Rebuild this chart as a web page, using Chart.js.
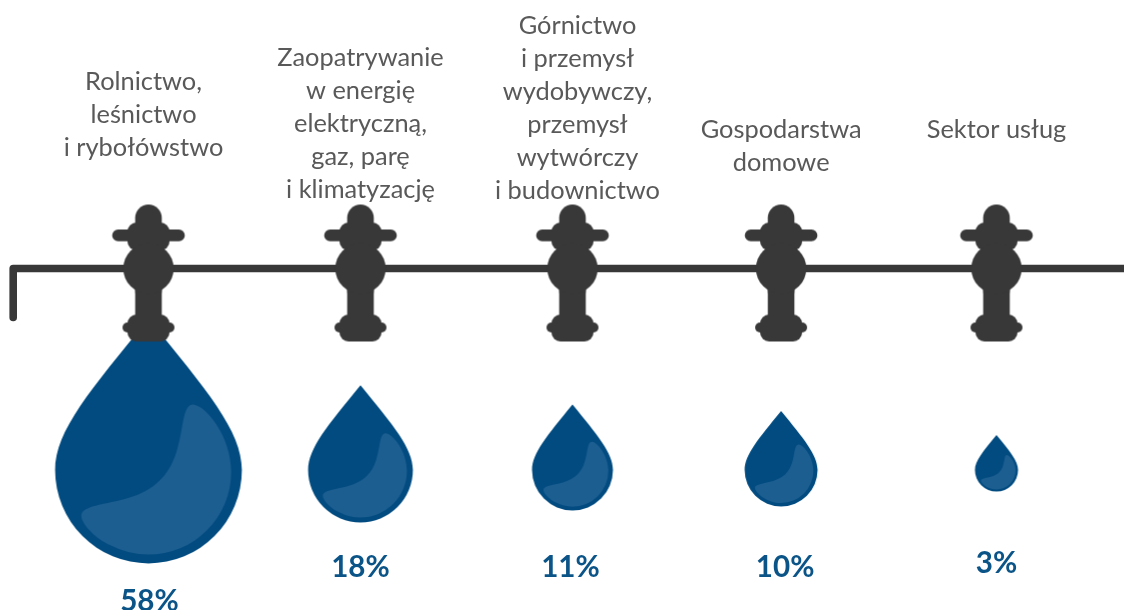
<!DOCTYPE html>
<html lang="pl">
<head>
<meta charset="utf-8">
<title>Zużycie wody według sektorów</title>
<script src="https://cdn.jsdelivr.net/npm/chart.js@4"></script>
<style>html,body{margin:0;padding:0;background:#fff;overflow:hidden}canvas{display:block}</style>
</head>
<body>
<canvas id="c" width="1124" height="610"></canvas>
<script>
// ---- data ----
const categories = [
  ["Rolnictwo,", "leśnictwo", "i rybołówstwo"],
  ["Zaopatrywanie", "w energię", "elektryczną,", "gaz, parę", "i klimatyzację"],
  ["Górnictwo", "i przemysł", "wydobywczy,", "przemysł", "wytwórczy", "i budownictwo"],
  ["Gospodarstwa", "domowe"],
  ["Sektor usług"]
];
const shares = [58, 18, 11, 10, 3];

// ---- layout (not data) ----
const COL_NUDGE = [0, 0, 0, -0.016, 0];
const SIZE_ADJ = [1.005, 1.012, 1, 0.945, 1.02];
const LABEL_TOP = [82, 58, 26, 130, 130];
const LABEL_DX = [-5, 0, 5, 0, 0];
const PCT_Y = [601, 567, 567, 567, 563];
const PCT_DX = [1, 0, -2, 4, 0];
const R_PER_SQRT = 12.2, DROP_Y = 470, PIPE_Y = 268.5;
const DARK = "#383838", BLUE = "#024b80", LIGHT = "#1c5e90", TEXT = "#595959", PCT = "#0b5488";

function dropCanvas(r) {
  const c = document.createElement("canvas");
  const hw = Math.ceil(r * 1.7) + 2;
  c.width = hw * 2; c.height = hw * 2;
  const g = c.getContext("2d");
  g.translate(hw, hw); g.scale(r, r);
  g.fillStyle = BLUE;
  g.beginPath();
  g.moveTo(0, -1.62);
  g.bezierCurveTo(0.62, -0.86, 1, -0.42, 1, 0);
  g.arc(0, 0, 1, 0, Math.PI);
  g.bezierCurveTo(-1, -0.42, -0.62, -0.86, 0, -1.62);
  g.closePath(); g.fill();
  g.fillStyle = LIGHT;
  g.beginPath();
  g.moveTo(0.49, -0.70);
  g.bezierCurveTo(0.62, -0.68, 0.886, -0.36, 0.886, 0.02);
  g.arc(0, 0.02, 0.886, 0, 2.05);
  g.bezierCurveTo(-0.56, 0.74, -0.72, 0.58, -0.72, 0.49);
  g.bezierCurveTo(-0.72, 0.38, -0.45, 0.37, -0.22, 0.30);
  g.bezierCurveTo(0.06, 0.22, 0.22, 0.06, 0.30, -0.196);
  g.bezierCurveTo(0.38, -0.44, 0.36, -0.72, 0.49, -0.70);
  g.closePath(); g.fill();
  return c;
}
function tapCanvas() {
  const c = document.createElement("canvas");
  c.width = 80; c.height = 160;
  const g = c.getContext("2d");
  g.translate(40, 80);
  g.fillStyle = DARK;
  const rr = (x, y, w, h, r) => { g.beginPath(); g.roundRect(x, y, w, h, r); g.fill(); };
  rr(-13.3, -64, 26.6, 100, 13.3);              // stem and cap
  rr(-13.3, 0, 26.6, 55, 0);                    // lower stem
  rr(-36.3, -39, 72.6, 11.8, 5.9);              // handle
  rr(-21, -46, 42, 28, 9);                      // upper nut
  g.beginPath(); g.arc(0, 0, 25.2, 0, Math.PI * 2); g.fill(); // ball
  rr(-21, 46, 42, 27, 9);                       // lower nut
  rr(-26, 54, 52, 10, 5);                       // lower ears
  return c;
}
const tapImg = tapCanvas();
const dropImgs = {};

const pipePlugin = {
  id: "pipe",
  beforeDatasetsDraw(chart) {
    const y = chart.scales.y.getPixelForValue(PIPE_Y), a = chart.chartArea, g = chart.ctx;
    g.save();
    g.strokeStyle = DARK; g.lineWidth = 7.6; g.lineJoin = "round"; g.lineCap = "round";
    g.beginPath();
    g.moveTo(13.2, y + 49);
    g.lineTo(13.2, y);
    g.lineTo(a.right + 10, y);
    g.stroke();
    g.restore();
  }
};
const textPlugin = {
  id: "texts",
  afterDatasetsDraw(chart) {
    const g = chart.ctx, xs = chart.scales.x, ys = chart.scales.y;
    g.save();
    g.textAlign = "center"; g.textBaseline = "middle";
    categories.forEach((lines, i) => {
      const x = xs.getPixelForValue(i + COL_NUDGE[i]);
      g.fillStyle = TEXT;
      g.font = '400 25.4px Lato';
      lines.forEach((t, k) => g.fillText(t, x + LABEL_DX[i], ys.getPixelForValue(LABEL_TOP[i] + k * 32.9)));
      g.fillStyle = PCT;
      g.font = '700 29.6px Lato';
      g.fillText(shares[i] + "%", x + PCT_DX[i], ys.getPixelForValue(PCT_Y[i]));
    });
    g.restore();
  }
};

new Chart(document.getElementById("c"), {
  type: "bubble",
  data: {
    labels: categories.map(l => l.join(" ")),
    datasets: [
      {
        label: "Zawory", order: 0, borderWidth: 0,
        data: categories.map((_, i) => ({ x: i + COL_NUDGE[i], y: PIPE_Y, r: 1 })),
        pointStyle: () => tapImg
      },
      {
        label: "Udział", order: 1, borderWidth: 0,
        data: shares.map((v, i) => ({ x: i + COL_NUDGE[i], y: DROP_Y, r: Math.sqrt(v) * R_PER_SQRT * SIZE_ADJ[i] })),
        pointStyle: ctx => {
          const r = ctx.raw ? ctx.raw.r : 10;
          return dropImgs[r] || (dropImgs[r] = dropCanvas(r));
        }
      }
    ]
  },
  options: {
    responsive: false, animation: false, events: [],
    layout: { padding: 0, autoPadding: false },
    plugins: { legend: { display: false }, tooltip: { enabled: false } },
    scales: {
      x: { type: "linear", display: false, min: -148.5 / 212, max: (1124 - 148.5) / 212 },
      y: { type: "linear", display: false, reverse: true, min: 0, max: 610 }
    }
  },
  plugins: [pipePlugin, textPlugin]
});
</script>
</body>
</html>
